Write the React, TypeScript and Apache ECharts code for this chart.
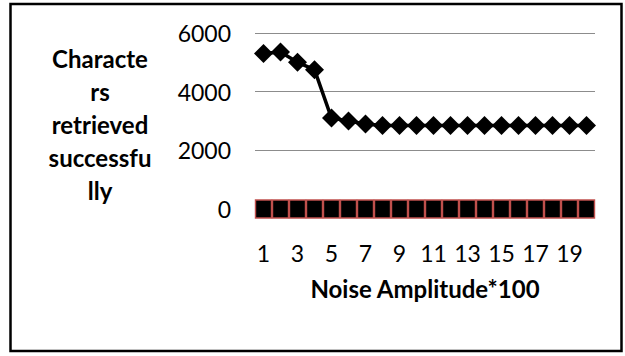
import React, { useEffect, useRef } from "react";
import * as echarts from "echarts";

const categories = ["1", "2", "3", "4", "5", "6", "7", "8", "9", "10", "11", "12", "13", "14", "15", "16", "17", "18", "19", "20"];
const retrieved = [5300, 5350, 5000, 4750, 3100, 3000, 2900, 2850, 2850, 2850, 2850, 2850, 2850, 2850, 2850, 2850, 2850, 2850, 2850, 2850];
const failed = [0, 0, 0, 0, 0, 0, 0, 0, 0, 0, 0, 0, 0, 0, 0, 0, 0, 0, 0, 0];
const yTitle = "Characte\nrs\nretrieved\nsuccessfu\nlly";
const xTitle = "Noise Amplitude*100";

export default function App() {
  const ref = useRef<HTMLDivElement>(null);
  useEffect(() => {
    if (!ref.current) return;
    const chart = echarts.init(ref.current, null, { renderer: "svg" });
    const font = "Lato";
    chart.setOption({
      animation: false,
      backgroundColor: "#ffffff",
      grid: { left: 255, right: 30, top: 33, bottom: 147 },
      xAxis: {
        type: "category",
        data: categories,
        boundaryGap: true,
        axisLine: { show: false },
        axisTick: { show: false },
        axisLabel: { interval: 1, margin: 32, fontFamily: font, fontSize: 23, color: "#000" },
      },
      yAxis: {
        type: "value",
        min: 0,
        max: 6000,
        interval: 2000,
        axisLine: { show: false },
        axisTick: { show: false },
        axisLabel: { margin: 24, fontFamily: font, fontSize: 23, color: "#000", formatter: (v: number) => String(v) },
        splitLine: { lineStyle: { color: "#8c8c8c", width: 1 } },
      },
      series: [
        {
          type: "line",
          data: retrieved,
          symbol: "diamond",
          symbolSize: 19,
          showAllSymbol: true,
          lineStyle: { color: "#000", width: 3.5 },
          itemStyle: { color: "#000" },
          z: 3,
        },
        {
          type: "line",
          data: failed,
          symbol: "rect",
          symbolSize: [16, 18],
          showAllSymbol: true,
          lineStyle: { color: "#c0504d", width: 2 },
          itemStyle: { color: "#000", borderColor: "#c0504d", borderWidth: 1.5 },
          z: 2,
        },
      ],
      graphic: [
        {
          type: "rect",
          shape: { x: 10.5, y: 4, width: 611, height: 347 },
          style: { fill: "none", stroke: "#000", lineWidth: 2.5 },
          silent: true,
        },
        {
          type: "text",
          x: 100,
          y: 124,
          style: {
            text: yTitle,
            font: "bold 24px Lato",
            textAlign: "center",
            textVerticalAlign: "middle",
            lineHeight: 33,
            fill: "#000",
          },
        },
        {
          type: "text",
          x: 425,
          y: 288,
          style: {
            text: xTitle,
            font: "bold 24px Lato",
            textAlign: "center",
            textVerticalAlign: "middle",
            fill: "#000",
          },
        },
      ],
    });
    return () => chart.dispose();
  }, []);
  return <div ref={ref} style={{ position: "fixed", left: 0, top: 0, width: 625, height: 356 }} />;
}
